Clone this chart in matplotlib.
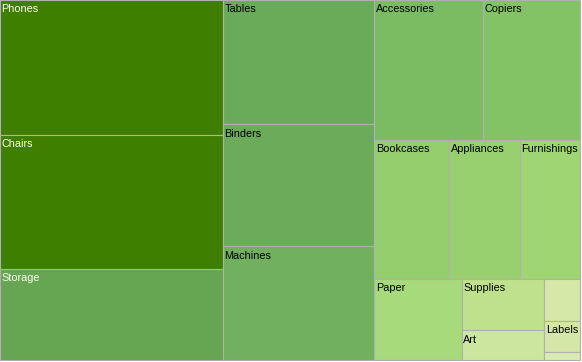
import matplotlib
matplotlib.use("Agg")
import matplotlib.pyplot as plt
from matplotlib.patches import Rectangle

# Sales by sub-category
categories = ["Phones", "Chairs", "Storage", "Tables", "Binders", "Machines",
              "Accessories", "Copiers", "Bookcases", "Appliances", "Furnishings",
              "Paper", "Supplies", "Art", "Envelopes", "Labels", "Fasteners"]
sales = [330007, 328449, 223844, 206966, 203413, 189239, 167380, 149528,
         114880, 107532, 91705, 78479, 46674, 27119, 16476, 12486, 3024]

fill_colors = ["#3e7f00", "#3e7f00", "#66a552", "#6aab5a", "#6bab5a", "#70b05e",
               "#7bbc63", "#84c266", "#95ce6d", "#98d06f", "#9fd573",
               "#a7da7b", "#bfe18e", "#cce69d", "#d5e8a8", "#d4e7a8", "#d9ebb1"]

W, H = 580, 360


def strip_layout(values, x, y, w, h):
    """Squarified-style strips: a strip is closed once it is as thick as
    its last item is long."""
    total = sum(values)
    areas = [v * w * h / total for v in values]
    rects = []
    i = 0
    while i < len(areas):
        vertical = w >= 0.95 * h
        side = h if vertical else w
        row = [areas[i]]
        i += 1
        while i < len(areas):
            thick = sum(row) / side
            if thick >= row[-1] / thick:
                break
            new_thick = (sum(row) + areas[i]) / side
            if new_thick / (areas[i] / new_thick) > 4:
                break
            row.append(areas[i])
            i += 1
        thick = sum(row) / side
        if i == len(areas):
            thick = w if vertical else h
        pos = 0
        for a in row:
            length = a / thick
            if vertical:
                rects.append((x, y + pos, thick, length))
            else:
                rects.append((x + pos, y, length, thick))
            pos += length
        if vertical:
            x += thick
            w -= thick
        else:
            y += thick
            h -= thick
    return rects


fig = plt.figure(figsize=(5.82, 3.62), dpi=100)
ax = fig.add_axes([0, 0, 1, 1])
ax.set_xlim(0, 582)
ax.set_ylim(362, 0)
ax.axis("off")

rects = strip_layout(sales, 0, 0, W, H)
renderer = fig.canvas.get_renderer()
for (rx, ry, rw, rh), name, val, col in zip(rects, categories, sales, fill_colors):
    ax.add_patch(Rectangle((rx, ry), rw, rh, facecolor=col,
                           edgecolor="#b0b0b0", linewidth=0.8))
    txt = ax.text(rx + 1.5, ry + 4.5, name, ha="left", va="top",
                  fontsize=7.8, family="Liberation Sans",
                  color="#fbfbee" if val > 220000 else "black")
    bb = txt.get_window_extent(renderer)
    if bb.width > rw - 2 or rh < 14:
        txt.remove()

fig.savefig("out.png", dpi=100)
